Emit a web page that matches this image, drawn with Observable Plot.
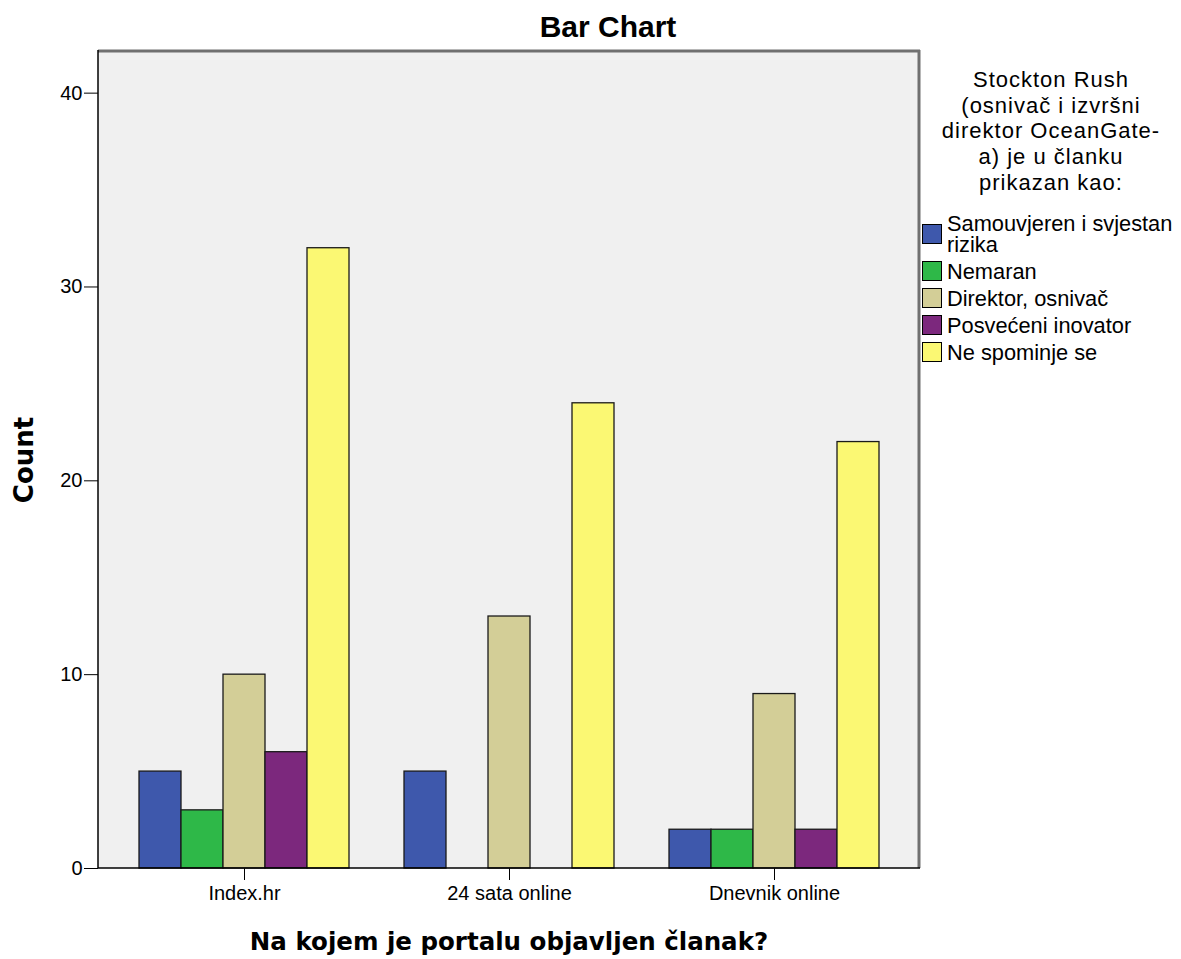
<!DOCTYPE html>
<html><head><meta charset="utf-8">
<script src="https://cdn.jsdelivr.net/npm/d3@7"></script>
<script src="https://cdn.jsdelivr.net/npm/@observablehq/plot@0.6"></script>
<style>
body{margin:0;background:#fff;}
#wrap{position:relative;width:1181px;height:959px;font-family:"Liberation Sans",Arial,sans-serif;color:#000;overflow:hidden;}
#chart,#yaxis{position:absolute;left:0;top:0;}
#title{position:absolute;left:608px;top:12px;transform:translateX(-50%);font-size:30px;font-weight:bold;line-height:30px;white-space:nowrap;}
#ylabel{position:absolute;left:24px;top:460px;transform:translate(-50%,-50%) rotate(-90deg);font-family:"DejaVu Sans",sans-serif;font-weight:bold;font-size:26px;line-height:26px;white-space:nowrap;}
#xlabel{position:absolute;left:509px;top:929px;transform:translateX(-50%);font-family:"DejaVu Sans",sans-serif;font-weight:bold;font-size:24.5px;line-height:25px;white-space:nowrap;}
#legend{position:absolute;left:922px;top:67px;width:259px;}
#ltitle{width:258px;text-align:center;font-size:22px;line-height:25.7px;letter-spacing:1px;white-space:nowrap;}
#litems{position:absolute;left:0;top:145.5px;}
.row{display:flex;align-items:center;margin-bottom:6px;}
.sw{width:18px;height:18px;border:1px solid #000;flex:none;}
.lab{margin-left:5px;font-size:21.8px;line-height:21px;max-width:234px;}
</style></head><body>
<div id="wrap">
  <div id="chart"></div>
  <div id="yaxis"></div>
  <div id="title"></div>
  <div id="ylabel"></div>
  <div id="xlabel"></div>
  <div id="legend"><div id="ltitle"></div><div id="litems"></div></div>
</div>
<script>
// ---- data ----
const chartTitle = "Bar Chart";
const yLabel = "Count";
const xLabel = "Na kojem je portalu objavljen članak?";
const legendTitleLines = ["Stockton Rush", "(osnivač i izvršni", "direktor OceanGate-", "a) je u članku", "prikazan kao:"];
const portals = ["Index.hr", "24 sata online", "Dnevnik online"];
const series = ["Samouvjeren i svjestan rizika", "Nemaran", "Direktor, osnivač", "Posvećeni inovator", "Ne spominje se"];
const colors = ["#3e58ac", "#2eb848", "#d3ce97", "#7c287d", "#fbf873"];
const indexHr = [5, 3, 10, 6, 32];
const sata24 = [5, 0, 13, 0, 24];
const dnevnik = [2, 2, 9, 2, 22];
const yTicks = [0, 10, 20, 30, 40];
const yDomain = [0, 42.2];

const counts = [indexHr, sata24, dnevnik];
const data = portals.flatMap((p, i) => series.map((s, j) => ({portal: p, series: s, count: counts[i][j]})));

// ---- layout ----
const W = 1181, H = 959, mL = 98, mR = 261, mT = 50, mB = 91;
const baseStyle = {fontFamily: "Liberation Sans, Arial, sans-serif", fontSize: "20px", color: "#000", background: "transparent", overflow: "visible"};

const chart = Plot.plot({
  width: W, height: H,
  marginLeft: mL, marginRight: mR, marginTop: mT, marginBottom: mB,
  style: baseStyle,
  fx: {domain: portals, paddingInner: 0.209, paddingOuter: 0.1525, label: null, tickSize: 12, tickPadding: 5},
  x: {domain: series, padding: 0, axis: null},
  y: {domain: yDomain, axis: null},
  color: {domain: series, range: colors},
  marks: [
    Plot.barY(data.filter(d => d.count > 0), {
      fx: "portal", x: "series", y: "count", fill: "series",
      stroke: "#1a1a1a", strokeWidth: 1.3
    })
  ]
});
document.getElementById("chart").appendChild(chart);

// y axis (unfaceted overlay sharing the same y scale settings)
const yAxisPlot = Plot.plot({
  width: W, height: H,
  marginLeft: mL, marginRight: mR, marginTop: mT, marginBottom: mB,
  style: baseStyle,
  x: {axis: null},
  y: {domain: yDomain, ticks: yTicks, tickSize: 14, tickPadding: 2, label: null},
  marks: []
});
document.getElementById("yaxis").appendChild(yAxisPlot);

// background panel & frame
const svg = d3.select(chart);
const pw = W - mL - mR, ph = H - mT - mB;
svg.insert("rect", ":first-child")
  .attr("x", mL).attr("y", mT).attr("width", pw).attr("height", ph).attr("fill", "#f0f0f0");
const fr = svg.append("g");
fr.append("line").attr("x1", mL).attr("x2", mL + pw).attr("y1", mT + 1).attr("y2", mT + 1).attr("stroke", "#707070").attr("stroke-width", 3);
fr.append("line").attr("x1", mL + pw - 1).attr("x2", mL + pw - 1).attr("y1", mT).attr("y2", mT + ph).attr("stroke", "#707070").attr("stroke-width", 3);
fr.append("line").attr("x1", mL).attr("x2", mL).attr("y1", mT).attr("y2", mT + ph).attr("stroke", "#000").attr("stroke-width", 1.5);
fr.append("line").attr("x1", mL).attr("x2", mL + pw).attr("y1", mT + ph).attr("y2", mT + ph).attr("stroke", "#000").attr("stroke-width", 1.5);

// texts
document.getElementById("title").textContent = chartTitle;
document.getElementById("ylabel").textContent = yLabel;
document.getElementById("xlabel").textContent = xLabel;
document.getElementById("ltitle").innerHTML = legendTitleLines.map(l => `<div>${l}</div>`).join("");
document.getElementById("litems").innerHTML = series.map((s, i) =>
  `<div class="row"><div class="sw" style="background:${colors[i]}"></div><div class="lab">${s}</div></div>`).join("");
</script>
</body></html>
